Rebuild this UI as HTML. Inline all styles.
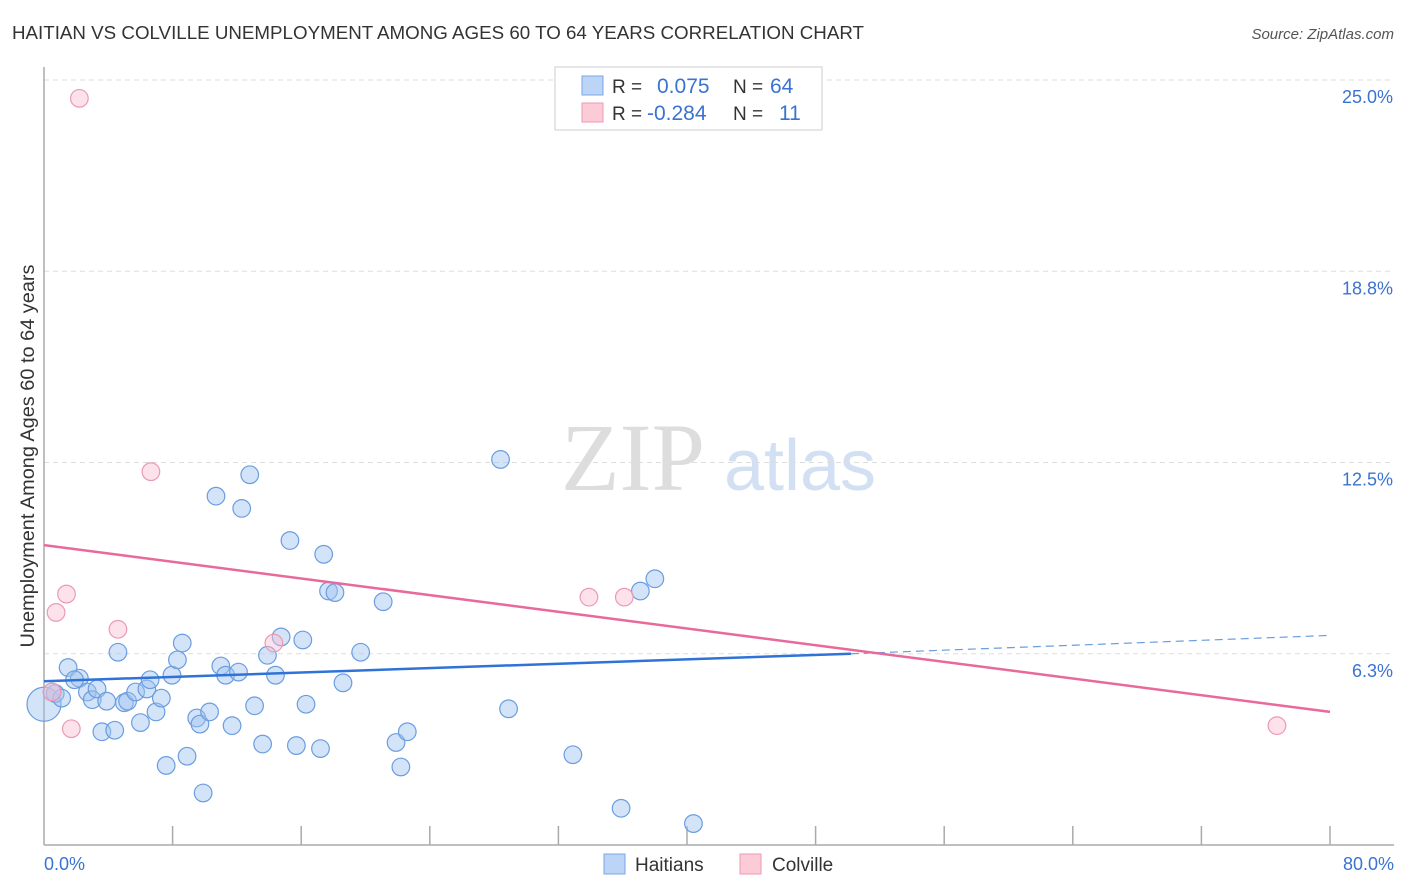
<!DOCTYPE html>
<html><head><meta charset="utf-8">
<style>
body{margin:0;background:#fff;font-family:"Liberation Sans",sans-serif;}
svg{display:block}
</style></head>
<body>
<svg id="chart" width="1406" height="892" viewBox="0 0 1406 892">
<text x="12" y="39" font-size="18" fill="#333" textLength="852" lengthAdjust="spacingAndGlyphs">HAITIAN VS COLVILLE UNEMPLOYMENT AMONG AGES 60 TO 64 YEARS CORRELATION CHART</text>
<text x="1394" y="39" font-size="15" fill="#555" font-style="italic" text-anchor="end">Source: ZipAtlas.com</text>
<g>
<text x="633" y="490" font-size="96" fill="#ddd" font-family="Liberation Serif" text-anchor="middle">ZIP</text>
<text x="800" y="490" font-size="72" fill="#d3e0f3" text-anchor="middle">atlas</text>
</g>
<g id="grid"></g>
<g id="axes"></g>
<g id="marks"></g>
<text transform="translate(34,456) rotate(-90)" font-size="19" fill="#333" text-anchor="middle" textLength="383" lengthAdjust="spacingAndGlyphs">Unemployment Among Ages 60 to 64 years</text>
<text x="44" y="870" font-size="18" fill="#3a73d0">0.0%</text>
<text x="1394" y="870" font-size="18" fill="#3a73d0" text-anchor="end">80.0%</text>
<g>
<rect x="555" y="67" width="267" height="63" fill="#fff" stroke="#ccc"/>
<rect x="582" y="76" width="21" height="19" fill="#bcd4f6" stroke="#7aa6e6"/>
<rect x="582" y="103" width="21" height="19" fill="#fbcbd8" stroke="#ee9ab4"/>
<text x="612" y="93" font-size="19" fill="#333">R =</text>
<text x="657" y="93" font-size="21" fill="#3a73d0">0.075</text>
<text x="733" y="93" font-size="19" fill="#333">N =</text>
<text x="770" y="93" font-size="21" fill="#3a73d0">64</text>
<text x="612" y="120" font-size="19" fill="#333">R =</text>
<text x="647" y="120" font-size="21" fill="#3a73d0">-0.284</text>
<text x="733" y="120" font-size="19" fill="#333">N =</text>
<text x="779" y="120" font-size="21" fill="#3a73d0">11</text>
</g>
<g>
<rect x="604" y="854" width="21" height="20" fill="#bcd4f6" stroke="#7aa6e6"/>
<text x="635" y="871" font-size="19" fill="#333">Haitians</text>
<rect x="740" y="854" width="21" height="20" fill="#fbcbd8" stroke="#ee9ab4"/>
<text x="772" y="871" font-size="19" fill="#333">Colville</text>
</g>
</svg>
<script>
const yTicks=[25.0,18.8,12.5,6.3];
const yTickLabels=["25.0%","18.8%","12.5%","6.3%"];
const xTicks=[0,8,16,24,32,40,48,56,64,72,80];
const haitianX=[0,0.7,1.1,0.5,1.5,2.2,1.9,2.7,3.0,3.3,3.6,3.9,4.4,4.6,5.0,5.2,5.7,6.0,6.4,6.6,6.97,7.3,7.6,7.96,8.3,8.6,8.9,9.5,9.7,9.9,10.3,10.7,11.0,11.3,11.7,12.1,12.3,12.8,13.1,13.6,13.9,14.4,14.75,15.3,15.7,16.1,16.3,17.2,17.4,17.7,18.1,18.6,19.7,21.1,21.9,22.2,22.6,28.4,28.9,32.9,35.9,37.1,38.0,40.4];
const haitianY=[4.6,4.95,4.8,5.0,5.8,5.45,5.4,5.0,4.75,5.1,3.7,4.7,3.75,6.3,4.65,4.7,5.0,4.0,5.1,5.4,4.35,4.8,2.6,5.55,6.05,6.6,2.9,4.15,3.95,1.7,4.35,11.4,5.85,5.55,3.9,5.65,11.0,12.1,4.55,3.3,6.2,5.55,6.8,9.95,3.25,6.7,4.6,3.15,9.5,8.3,8.25,5.3,6.3,7.95,3.35,2.55,3.7,12.6,4.45,2.95,1.2,8.3,8.7,0.7];
const colvilleX=[2.2,6.65,1.4,0.75,4.6,14.3,1.7,0.5,33.9,36.1,76.7];
const colvilleY=[24.4,12.2,8.2,7.6,7.05,6.6,3.8,5.0,8.1,8.1,3.9];
const haitianTrend=[0.075,[0,5.35],[50.2,6.25],[80,6.85]];
const colvilleTrend=[[0,9.8],[80,4.35]];
const NS="http://www.w3.org/2000/svg";
const X0=44,X1=1330,Y0=845,YTOP=80;
const xs=v=>X0+(v/80)*(X1-X0);
const ys=v=>Y0-(v/25)*(Y0-YTOP);
function mk(tag,attrs,parent){const e=document.createElementNS(NS,tag);for(const k in attrs)e.setAttribute(k,attrs[k]);parent.appendChild(e);return e;}
const grid=document.getElementById('grid'),axes=document.getElementById('axes'),marks=document.getElementById('marks');
yTicks.forEach((t,i)=>{
  const y=ys(t===6.3?6.25:t===18.8?18.75:t);
  const l=mk('line',{x1:X0,x2:1394,y1:y,y2:y,stroke:'#ddd','stroke-dasharray':'5,4'},grid);
  
  
  const tx=mk('text',{x:1393,y:y+23,'font-size':18,fill:'#3a73d0','text-anchor':'end'},grid);
  tx.textContent=yTickLabels[i];
  
  
});
const ya=mk('line',{x1:X0,x2:X0,y1:67,y2:Y0,stroke:'#aaa','stroke-width':1.5},axes);


const xa=mk('line',{x1:X0,x2:1394,y1:Y0,y2:Y0,stroke:'#aaa','stroke-width':1.5},axes);


xTicks.slice(1).forEach(t=>{
  const l=mk('line',{x1:xs(t),x2:xs(t),y1:826,y2:Y0,stroke:'#aaa','stroke-width':1.5},axes);
  
  
});
haitianX.forEach((v,i)=>{
  const c=mk('circle',{cx:xs(v),cy:ys(haitianY[i]),r:i===0?17:8.8,fill:'rgba(160,195,240,0.45)',stroke:'#6a9de0','stroke-width':1.2},marks);
  
  
});
colvilleX.forEach((v,i)=>{
  const c=mk('circle',{cx:xs(v),cy:ys(colvilleY[i]),r:8.8,fill:'rgba(250,190,210,0.45)',stroke:'#ec9ab4','stroke-width':1.2},marks);
  
  
});
const ht=haitianTrend;
const hl=mk('line',{x1:xs(ht[1][0]),y1:ys(ht[1][1]),x2:xs(ht[2][0]),y2:ys(ht[2][1]),stroke:'#2f73d8','stroke-width':2.5},marks);


const hd=mk('line',{x1:xs(ht[2][0]),y1:ys(ht[2][1]),x2:xs(ht[3][0]),y2:ys(ht[3][1]),stroke:'#6a9de0','stroke-width':1.2,'stroke-dasharray':'8,5'},marks);


const cl=mk('line',{x1:xs(colvilleTrend[0][0]),y1:ys(colvilleTrend[0][1]),x2:xs(colvilleTrend[1][0]),y2:ys(colvilleTrend[1][1]),stroke:'#e8699a','stroke-width':2.5},marks);


</script>
</body></html>
